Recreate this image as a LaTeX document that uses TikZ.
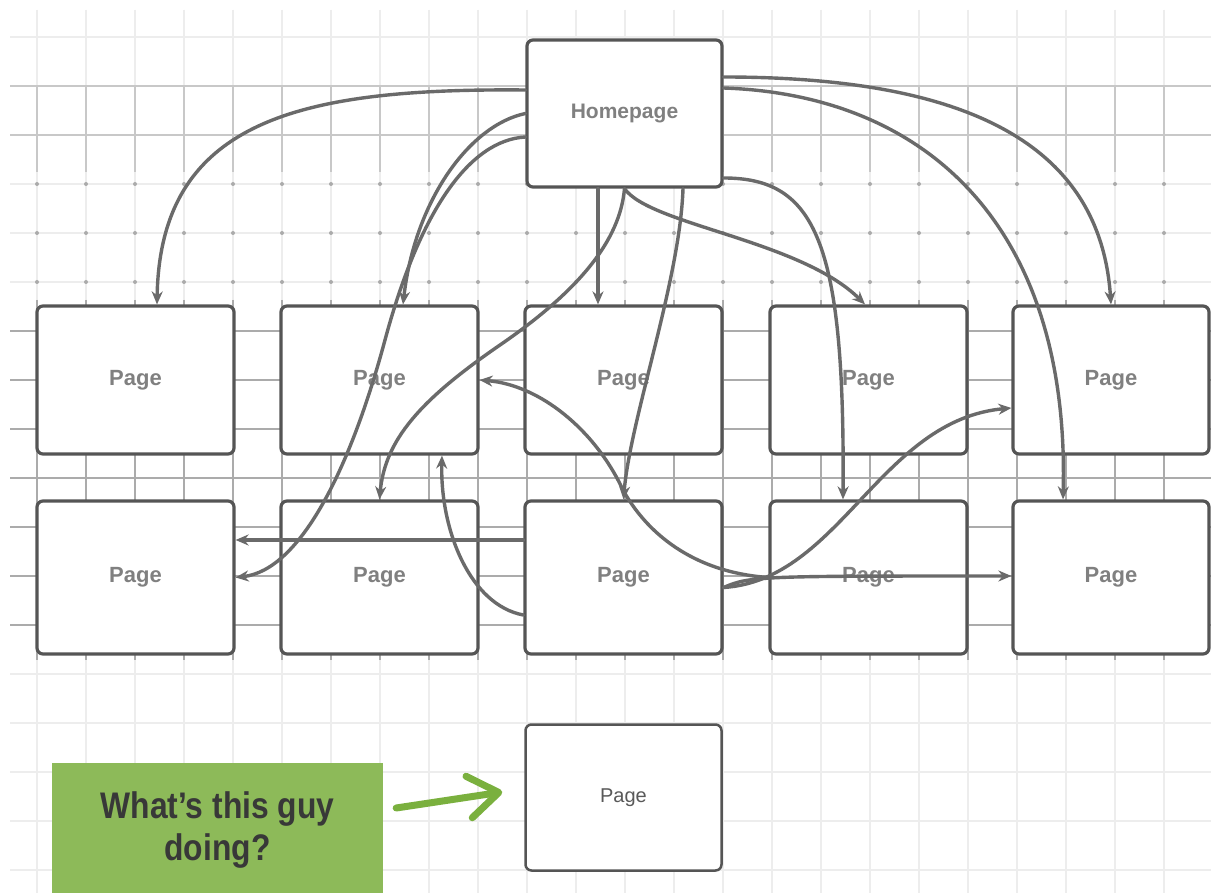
\documentclass[tikz,border=0pt]{standalone}
\usepackage{fontspec}
\setmainfont{Liberation Sans}
\usepackage{graphicx}
\usetikzlibrary{arrows.meta,calc}
\definecolor{boxline}{HTML}{555555}
\definecolor{conn}{HTML}{6A6A6A}
\definecolor{greenfill}{RGB}{141,186,89}
\definecolor{greenarrow}{RGB}{122,176,62}
\definecolor{gridlight}{HTML}{EDEDED}
\definecolor{griddark}{HTML}{ABABAB}
\definecolor{gridmid}{HTML}{C8C8C8}
\tikzset{
  pagebox/.style={draw=boxline, line width=3.2pt, rounded corners=6pt, fill=white,
    minimum width=197pt, minimum height=148pt, inner sep=0pt, text=black!50,
    font=\fontsize{22}{26}\selectfont\bfseries},
  rowtwo/.style={pagebox, minimum height=153pt},
  link/.style={draw=conn, line width=3.4pt, line cap=round,
    -{Stealth[length=13pt,width=11pt]}},
  gridl/.style={draw=gridlight, line width=1.2pt},
  gridd/.style={draw=griddark, line width=1.4pt},
  gridm/.style={draw=gridmid, line width=1.4pt},
}
\begin{document}
\begin{tikzpicture}[x=1pt,y=-1pt]
\useasboundingbox (0,0) rectangle (1211,893);
\fill[white] (0,0) rectangle (1211,893);
% light grid
\foreach \i in {0,...,24} \draw[gridl] ({37+49*\i},10) -- ({37+49*\i},893);
\foreach \j in {0,...,17} \draw[gridl] (10,{37+49*\j}) -- (1211,{37+49*\j});
% darker grid bands
\begin{scope}
  \clip (10,300) rectangle (1211,660);
  \foreach \i in {0,...,24} \draw[gridd] ({37+49*\i},300) -- ({37+49*\i},660);
  \foreach \j in {6,...,12} \draw[gridd] (10,{37+49*\j}) -- (1211,{37+49*\j});
\end{scope}
\begin{scope}
  \clip (10,86) rectangle (1211,172);
  \foreach \i in {0,...,24} \draw[gridm] ({37+49*\i},86) -- ({37+49*\i},172);
  \foreach \j in {1,2} \draw[gridm] (10,{37+49*\j}) -- (1211,{37+49*\j});
\end{scope}
\foreach \i in {0,...,24}{\foreach \yy in {184,233,282}{\fill[griddark] ({37+49*\i},\yy) circle (2pt);}}

% boxes
\node[pagebox, minimum width=195pt, minimum height=147pt,
  font=\fontsize{21}{25}\selectfont\bfseries] (home) at (624.5,113.5) {Homepage};
\node[pagebox] (p11) at (135.5,380) {Page};
\node[pagebox] (p12) at (379.5,380) {Page};
\node[pagebox] (p13) at (623.5,380) {Page};
\node[pagebox] (p14) at (868.5,380) {Page};
\node[pagebox, minimum width=196pt] (p15) at (1111,380) {Page};
\node[rowtwo] (p21) at (135.5,577.5) {Page};
\node[rowtwo] (p22) at (379.5,577.5) {Page};
\node[rowtwo] (p23) at (623.5,577.5) {Page};
\node[rowtwo] (p24) at (868.5,577.5) {Page};
\node[rowtwo, minimum width=196pt] (p25) at (1111,577.5) {Page};

% connectors
\draw[link] ([yshift=23.5pt]home.west) .. controls (300,88) and (160,120) .. ([xshift=21.5pt]p11.north);
\draw[link] (home.west) .. controls (470,125) and (415,200) .. ([xshift=23.5pt]p12.north);
\draw[link] ([yshift=-23.5pt]home.west) .. controls (470,140) and (420,210) .. (385,340)
  .. controls (350,470) and (300,570) .. (p21.east);
\draw[link] ([xshift=-26.5pt]home.south) -- ([xshift=-25.5pt]p13.north);
\draw[link] (home.south) .. controls (620,240) and (580,290) .. (500,345)
  .. controls (420,400) and (385,440) .. (p22.north);
\draw[link] ([yshift=-37.5pt]p23.west) .. controls (470,605) and (440,530) .. ([xshift=62.5pt]p12.south);
\draw[link] ([yshift=37.5pt]p23.west) -- ([yshift=37.5pt]p21.east);
\draw[link] ([xshift=58.5pt]home.south) .. controls (680,280) and (630,420) .. (p23.north);
\draw[link] (p24.west) .. controls (690,572) and (645,530) .. (623,490)
  .. controls (595,430) and (540,385) .. (p12.east);
\draw[link] ([yshift=-10pt]p23.east) .. controls (840,580) and (880,420) .. ([yshift=-28pt]p15.west);
\draw[link] ([yshift=-10pt]p23.east) .. controls (750,576) and (760,576) .. ([yshift=1.5pt]p25.west);
\draw[link] ([yshift=-64.5pt]home.east) .. controls (815,178) and (845,240) .. ([xshift=-25.5pt]p24.north);
\draw[link] (home.south) .. controls (650,225) and (800,240) .. ([xshift=-3.5pt]p14.north);
\draw[link] ([yshift=36.5pt]home.east) .. controls (960,77) and (1100,140) .. (p15.north);
\draw[link] ([yshift=25.5pt]home.east) .. controls (930,95) and (1070,230) .. ([xshift=-48pt]p25.north);

% bottom part
\node[pagebox, line width=2.5pt, minimum width=196pt, minimum height=146pt, text=black!65,
  font=\fontsize{20}{24}\selectfont] (pb) at (623.5,797.5) {Page};
\node[fill=greenfill, minimum width=331pt, minimum height=134pt, inner sep=0pt,
  text=black!78, align=center, font=\fontsize{37}{42}\selectfont\bfseries]
  (green) at (217.5,830) {\scalebox{0.86}[1]{What’s this guy}\\\scalebox{0.86}[1]{doing?}};
\draw[greenarrow, line width=7pt, line cap=round, line join=round,
  -{Straight Barb[length=30pt,width=42pt,round]}]
  ([xshift=13pt,yshift=22pt]green.east) -- ([xshift=-22pt,yshift=5.5pt]pb.west);
\end{tikzpicture}
\end{document}
